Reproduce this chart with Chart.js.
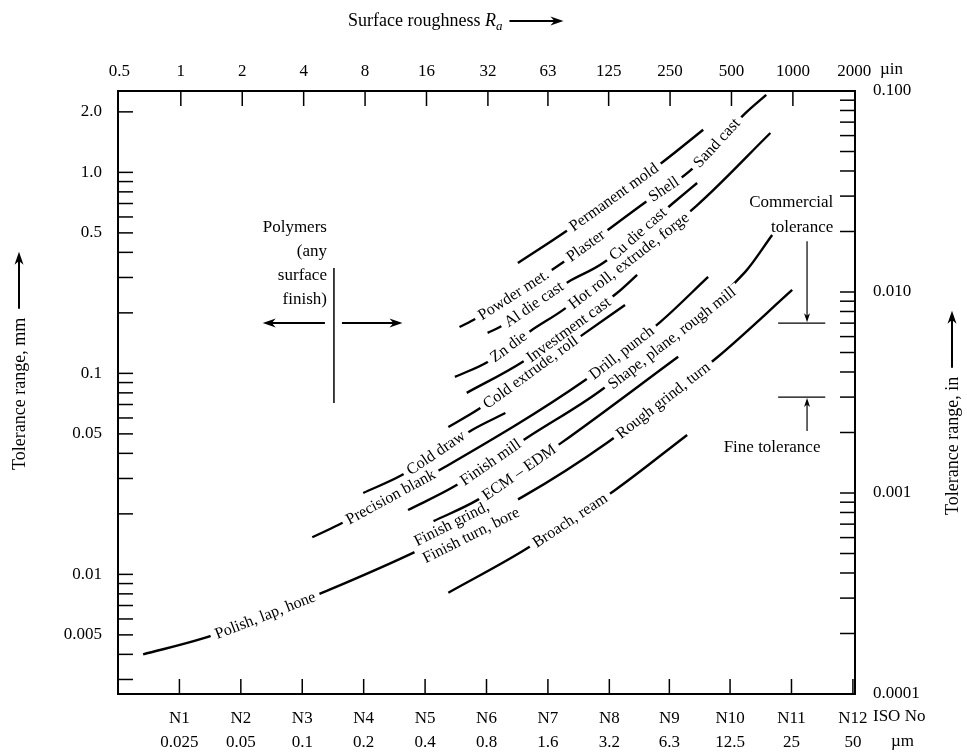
<!DOCTYPE html>
<html>
<head>
<meta charset="utf-8">
<script src="https://cdn.jsdelivr.net/npm/chart.js@4"></script>
<style>
  html, body { margin: 0; padding: 0; background: #fff; }
</style>
</head>
<body>
<canvas id="chart" width="967" height="756"></canvas>
<script>
var FONT = '"Liberation Serif", "Times New Roman", serif';

// axis labels
var isoGrades = ['N1', 'N2', 'N3', 'N4', 'N5', 'N6', 'N7', 'N8', 'N9', 'N10', 'N11', 'N12'];
var raMicron = [0.025, 0.05, 0.1, 0.2, 0.4, 0.8, 1.6, 3.2, 6.3, 12.5, 25, 50];
var raMicroinch = ['0.5', '1', '2', '4', '8', '16', '32', '63', '125', '250', '500', '1000', '2000'];
var tolMmLabels = ['0.005', '0.01', '0.05', '0.1', '0.5', '1.0', '2.0'];
var tolInLabels = ['0.0001', '0.001', '0.010', '0.100'];

// process bands: Ra in micrometres (x) against tolerance in mm (y)
var polishX = [0.0166, 0.0326, 0.0657, 0.129, 0.349, 1.20, 3.16, 10.9, 25.2];
var polishY = [0.0040, 0.0048, 0.0062, 0.0082, 0.0128, 0.0243, 0.0456, 0.121, 0.26];
var broachX = [0.52, 1.21, 3.42, 7.7];
var broachY = [0.0081, 0.0131, 0.0263, 0.0494];
var ecmX = [0.44, 0.72, 1.86, 6.96];
var ecmY = [0.0184, 0.0234, 0.0451, 0.121];
var millX = [0.33, 0.56, 1.28, 2.88, 14.8, 20.1];
var millY = [0.0209, 0.0275, 0.0482, 0.0817, 0.319, 0.488];
var blankX = [0.112, 0.15, 0.50, 2.44, 5.68, 9.76];
var blankY = [0.0153, 0.0176, 0.0342, 0.0927, 0.180, 0.302];
var coldDrawX = [0.199, 0.308, 0.68, 0.99];
var coldDrawY = [0.0254, 0.0312, 0.0523, 0.0635];
var coldExtrudeX = [0.52, 0.72, 2.44, 3.82];
var coldExtrudeY = [0.0541, 0.0657, 0.159, 0.219];
var investX = [0.64, 1.20, 3.49, 4.38];
var investY = [0.080, 0.114, 0.251, 0.309];
var hotRollX = [0.56, 0.81, 1.32, 1.90, 8.53, 19.7];
var hotRollY = [0.096, 0.114, 0.163, 0.207, 0.68, 1.57];
var dieCastX = [0.81, 0.93, 2.01, 2.98, 6.58, 8.62];
var dieCastY = [0.159, 0.170, 0.285, 0.354, 0.704, 0.885];
var sandCastX = [0.59, 0.70, 1.94, 4.90, 7.97, 14.7, 18.8];
var sandCastY = [0.170, 0.186, 0.362, 0.720, 1.02, 1.95, 2.43];
var permMoldX = [1.14, 1.94, 5.87, 9.23];
var permMoldY = [0.354, 0.505, 1.13, 1.63];

// labels sitting on the bands: [band, text ("|" = two lines), Ra at centre]
var bandLabels = [
  ['polish', 'Polish, lap, hone', 0.066],
  ['polish', 'Finish grind,|Finish turn, bore', 0.64],
  ['polish', 'Rough grind, turn', 5.9],
  ['broach', 'Broach, ream', 2.06],
  ['ecm', 'ECM \u2013 EDM', 1.16],
  ['mill', 'Finish mill', 0.84],
  ['mill', 'Shape, plane, rough mill', 6.5],
  ['blank', 'Precision blank', 0.272],
  ['blank', 'Drill, punch', 3.69],
  ['coldDraw', 'Cold draw', 0.453],
  ['coldExtrude', 'Cold extrude, roll', 1.32],
  ['invest', 'Investment cast', 2.03],
  ['hotRoll', 'Zn die', 1.03],
  ['hotRoll', 'Hot roll, extrude, forge', 4.0],
  ['dieCast', 'Al die cast', 1.37],
  ['dieCast', 'Cu die cast', 4.43],
  ['sandCast', 'Powder met.', 1.09],
  ['sandCast', 'Plaster', 2.46],
  ['sandCast', 'Shell', 5.94],
  ['sandCast', 'Sand cast', 10.8],
  ['permMold', 'Permanent mold', 3.38]
];

// annotations
var polymerRa = 0.143;              // um, the divider line
var polymerTol = [0.0713, 0.334];   // mm, extent of divider
var polymerArrowTol = 0.178;        // mm
var polymerArrowEnds = [0.064, 0.31];
var commercialTolIn = 0.007;
var fineTolIn = 0.003;
var tolMarkRa = [21.5, 29.8, 36.6];  // line start, arrow, line end

var bands = [
  ['polish', polishX, polishY], ['broach', broachX, broachY], ['ecm', ecmX, ecmY],
  ['mill', millX, millY], ['blank', blankX, blankY], ['coldDraw', coldDrawX, coldDrawY],
  ['coldExtrude', coldExtrudeX, coldExtrudeY], ['invest', investX, investY],
  ['hotRoll', hotRollX, hotRollY], ['dieCast', dieCastX, dieCastY],
  ['sandCast', sandCastX, sandCastY], ['permMold', permMoldX, permMoldY]
];

var datasets = bands.map(function (b) {
  return {
    label: b[0],
    data: b[1].map(function (x, i) { return { x: x, y: b[2][i] }; }),
    borderColor: '#000',
    borderWidth: 2.4,
    pointRadius: 0,
    fill: false,
    cubicInterpolationMode: 'monotone'
  };
});

var xMin = 0.0125, xMax = 51.2;
var yMin = 0.00254, yMax = 2.54;

function labelIndex(list, v) {
  for (var i = 0; i < list.length; i++) {
    if (Math.abs(parseFloat(list[i]) - v) < v * 1e-6) return i;
  }
  return -1;
}

function decadeTicks(scale, e0, e1) {
  var t = [];
  for (var e = e0; e <= e1; e++) {
    for (var m = 1; m <= 9; m++) {
      var v = parseFloat((m * Math.pow(10, e)).toPrecision(6));
      if (v >= scale.min * 0.9999 && v <= scale.max * 1.0001) t.push({ value: v });
    }
  }
  scale.ticks = t;
}

function drawArrow(ctx, x1, y1, x2, y2, head, half) {
  var a = Math.atan2(y2 - y1, x2 - x1), c = Math.cos(a), s = Math.sin(a);
  ctx.beginPath();
  ctx.moveTo(x1, y1);
  ctx.lineTo(x2 - c * head * 0.6, y2 - s * head * 0.6);
  ctx.stroke();
  ctx.beginPath();
  ctx.moveTo(x2, y2);
  ctx.lineTo(x2 - c * head - s * half, y2 - s * head + c * half);
  ctx.lineTo(x2 - c * head * 0.7, y2 - s * head * 0.7);
  ctx.lineTo(x2 - c * head + s * half, y2 - s * head - c * half);
  ctx.closePath();
  ctx.fill();
}

function bez(a, b, c, d, t) {
  var u = 1 - t;
  return u * u * u * a + 3 * u * u * t * b + 3 * u * t * t * c + t * t * t * d;
}

function curveY(pts, px) {
  var n = pts.length;
  for (var i = 0; i < n - 1; i++) {
    var p = pts[i], q = pts[i + 1];
    if (px >= p.x && px <= q.x) {
      if (p.cp2x === undefined || q.cp1x === undefined) {
        return p.y + (q.y - p.y) * (px - p.x) / (q.x - p.x);
      }
      var lo = 0, hi = 1;
      for (var k = 0; k < 30; k++) {
        var m = (lo + hi) / 2;
        if (bez(p.x, p.cp2x, q.cp1x, q.x, m) < px) lo = m; else hi = m;
      }
      return bez(p.y, p.cp2y, q.cp1y, q.y, lo);
    }
  }
  var a = px < pts[0].x ? pts[0] : pts[n - 2];
  var b = px < pts[0].x ? pts[1] : pts[n - 1];
  return a.y + (b.y - a.y) * (px - a.x) / (b.x - a.x);
}

var bandLabelPlugin = {
  id: 'bandLabels',
  afterDatasetsDraw: function (chart) {
    var ctx = chart.ctx, xs = chart.scales.x;
    ctx.save();
    ctx.font = '16px ' + FONT;
    ctx.textBaseline = 'middle';
    bandLabels.forEach(function (lb) {
      var idx = chart.data.datasets.findIndex(function (d) { return d.label === lb[0]; });
      var pts = chart.getDatasetMeta(idx).data;
      var px = xs.getPixelForValue(lb[2]);
      var py = curveY(pts, px);
      var ang = Math.atan2(curveY(pts, px + 15) - curveY(pts, px - 15), 30);
      var lines = lb[1].split('|');
      var w = Math.max.apply(null, lines.map(function (t) { return ctx.measureText(t).width; }));
      ctx.save();
      ctx.translate(px, py);
      ctx.rotate(ang);
      ctx.fillStyle = '#fff';
      ctx.fillRect(-w / 2 - 5, -6, w + 10, 12);
      ctx.fillStyle = '#000';
      if (lines.length === 1) {
        ctx.textAlign = 'center';
        ctx.fillText(lines[0], 0, 0);
      } else {
        ctx.textAlign = 'left';
        ctx.fillText(lines[0], -w / 2, -9);
        ctx.fillText(lines[1], -w / 2, 10);
      }
      ctx.restore();
    });
    ctx.restore();
  }
};

var frameTickPlugin = {
  id: 'frameTicks',
  afterDraw: function (chart) {
    var ctx = chart.ctx, a = chart.chartArea, len = 15;
    ctx.save();
    ctx.strokeStyle = '#000';
    ctx.lineWidth = 1.5;
    ['x', 'x2', 'y', 'y2'].forEach(function (id) {
      var s = chart.scales[id];
      s.ticks.forEach(function (t) {
        var p = s.getPixelForValue(t.value);
        ctx.beginPath();
        if (id === 'x' || id === 'x2') {
          if (p < a.left + 2 || p > a.right - 2) return;
          var y0 = id === 'x' ? a.bottom : a.top;
          ctx.moveTo(p, y0);
          ctx.lineTo(p, id === 'x' ? y0 - len : y0 + len);
        } else {
          if (p < a.top + 2 || p > a.bottom - 2) return;
          var x0 = id === 'y' ? a.left : a.right;
          ctx.moveTo(x0, p);
          ctx.lineTo(id === 'y' ? x0 + len : x0 - len, p);
        }
        ctx.stroke();
      });
    });
    ctx.restore();
  }
};

var notesPlugin = {
  id: 'notes',
  afterDraw: function (chart) {
    var ctx = chart.ctx, a = chart.chartArea;
    var xs = chart.scales.x, ys = chart.scales.y, ys2 = chart.scales.y2;
    ctx.save();
    ctx.fillStyle = '#000';
    ctx.strokeStyle = '#000';
    ctx.textBaseline = 'middle';

    // top title
    ctx.font = '18px ' + FONT;
    ctx.textAlign = 'left';
    var tx = 348, ty = 21;
    ctx.fillText('Surface roughness ', tx, ty);
    tx += ctx.measureText('Surface roughness ').width;
    ctx.font = 'italic 18px ' + FONT;
    ctx.fillText('R', tx, ty);
    tx += ctx.measureText('R').width;
    ctx.font = 'italic 13px ' + FONT;
    ctx.fillText('a', tx, ty + 6);
    tx += ctx.measureText('a').width + 7;
    ctx.lineWidth = 2;
    drawArrow(ctx, tx, ty, tx + 54, ty, 13, 4.5);

    // left and right titles
    [[20, 470, 'Tolerance range, mm'], [953, 515, 'Tolerance range, in']].forEach(function (t) {
      ctx.save();
      ctx.translate(t[0], t[1]);
      ctx.rotate(-Math.PI / 2);
      ctx.font = '18px ' + FONT;
      ctx.textAlign = 'left';
      ctx.fillText(t[2], 0, 0);
      var w = ctx.measureText(t[2]).width;
      ctx.lineWidth = 2;
      drawArrow(ctx, w + 9, -1, w + 66, -1, 13, 4.5);
      ctx.restore();
    });

    // unit captions beyond the last ticks
    ctx.font = '17px ' + FONT;
    ctx.textAlign = 'left';
    var topTicks = chart.scales.x2;
    ctx.fillText('\u00b5in', a.right + 25, topTicks.bottom - 21);
    ctx.fillText('ISO No', a.right + 18, 717);
    ctx.fillText('\u00b5m', a.right + 36, 742);

    // polymers divider
    var lx = xs.getPixelForValue(polymerRa);
    var ay = ys.getPixelForValue(polymerArrowTol);
    ctx.lineWidth = 1.5;
    ctx.beginPath();
    ctx.moveTo(lx, ys.getPixelForValue(polymerTol[1]));
    ctx.lineTo(lx, ys.getPixelForValue(polymerTol[0]));
    ctx.stroke();
    ctx.lineWidth = 2;
    drawArrow(ctx, lx - 9, ay, xs.getPixelForValue(polymerArrowEnds[0]), ay, 13, 4.5);
    drawArrow(ctx, lx + 8, ay, xs.getPixelForValue(polymerArrowEnds[1]), ay, 13, 4.5);
    ctx.font = '17px ' + FONT;
    ctx.textAlign = 'right';
    ['Polymers', '(any', 'surface', 'finish)'].forEach(function (t, i) {
      ctx.fillText(t, lx - 7, ay - 96 + i * 24);
    });

    // commercial / fine tolerance marks
    var cy = ys2.getPixelForValue(commercialTolIn);
    var fy = ys2.getPixelForValue(fineTolIn);
    var x0 = xs.getPixelForValue(tolMarkRa[0]);
    var xm = xs.getPixelForValue(tolMarkRa[1]);
    var x1 = xs.getPixelForValue(tolMarkRa[2]);
    ctx.lineWidth = 1.2;
    ctx.beginPath();
    ctx.moveTo(x0, cy); ctx.lineTo(x1, cy);
    ctx.moveTo(x0, fy); ctx.lineTo(x1, fy);
    ctx.stroke();
    drawArrow(ctx, xm, cy - 82, xm, cy - 1, 9, 3);
    drawArrow(ctx, xm, fy + 34, xm, fy + 1, 9, 3);
    ctx.textAlign = 'right';
    ctx.fillText('Commercial', x1 + 8, cy - 121);
    ctx.fillText('tolerance', x1 + 8, cy - 96);
    ctx.textAlign = 'center';
    ctx.fillText('Fine tolerance', xm - 35, fy + 50);
    ctx.restore();
  }
};

var tickFont = { family: FONT, size: 17, lineHeight: 1.45 };

var chart = new Chart(document.getElementById('chart').getContext('2d'), {
  type: 'line',
  data: { datasets: datasets },
  options: {
    responsive: false,
    devicePixelRatio: 1,
    animation: false,
    layout: { padding: 0 },
    plugins: { legend: { display: false }, tooltip: { enabled: false } },
    scales: {
      x: {
        type: 'logarithmic', position: 'bottom', min: xMin, max: xMax,
        grid: { display: false, drawTicks: false },
        border: { display: true, color: '#000', width: 2 },
        afterBuildTicks: function (s) { s.ticks = raMicron.map(function (v) { return { value: v }; }); },
        afterFit: function (s) { s.height = 62; },
        ticks: {
          autoSkip: false, maxRotation: 0, minRotation: 0, padding: 12, color: '#000', font: tickFont,
          callback: function (v, i) { return [isoGrades[i], String(raMicron[i])]; }
        }
      },
      x2: {
        type: 'logarithmic', axis: 'x', position: 'top', min: xMin / 0.0254, max: xMax / 0.0254,
        grid: { display: false, drawTicks: false },
        border: { display: true, color: '#000', width: 2 },
        afterBuildTicks: function (s) { s.ticks = raMicroinch.map(function (v) { return { value: parseFloat(v) }; }); },
        afterFit: function (s) { s.height = 91; },
        ticks: {
          autoSkip: false, maxRotation: 0, minRotation: 0, padding: 7, color: '#000', font: tickFont,
          callback: function (v, i) { return raMicroinch[i]; }
        }
      },
      y: {
        type: 'logarithmic', position: 'left', min: yMin, max: yMax,
        grid: { display: false, drawTicks: false },
        border: { display: true, color: '#000', width: 2 },
        afterBuildTicks: function (s) { decadeTicks(s, -3, 0); },
        afterFit: function (s) { s.width = 118; },
        ticks: {
          autoSkip: false, padding: 16, color: '#000', font: tickFont,
          callback: function (v) { var i = labelIndex(tolMmLabels, v); return i < 0 ? '' : tolMmLabels[i]; }
        }
      },
      y2: {
        type: 'logarithmic', axis: 'y', position: 'right', min: 0.0001, max: 0.1,
        grid: { display: false, drawTicks: false },
        border: { display: true, color: '#000', width: 2 },
        afterBuildTicks: function (s) { decadeTicks(s, -4, -1); },
        afterFit: function (s) { s.width = 112; },
        ticks: {
          autoSkip: false, padding: 18, color: '#000', font: tickFont,
          callback: function (v) { var i = labelIndex(tolInLabels, v); return i < 0 ? '' : tolInLabels[i]; }
        }
      }
    }
  },
  plugins: [bandLabelPlugin, frameTickPlugin, notesPlugin]
});
</script>
</body>
</html>
